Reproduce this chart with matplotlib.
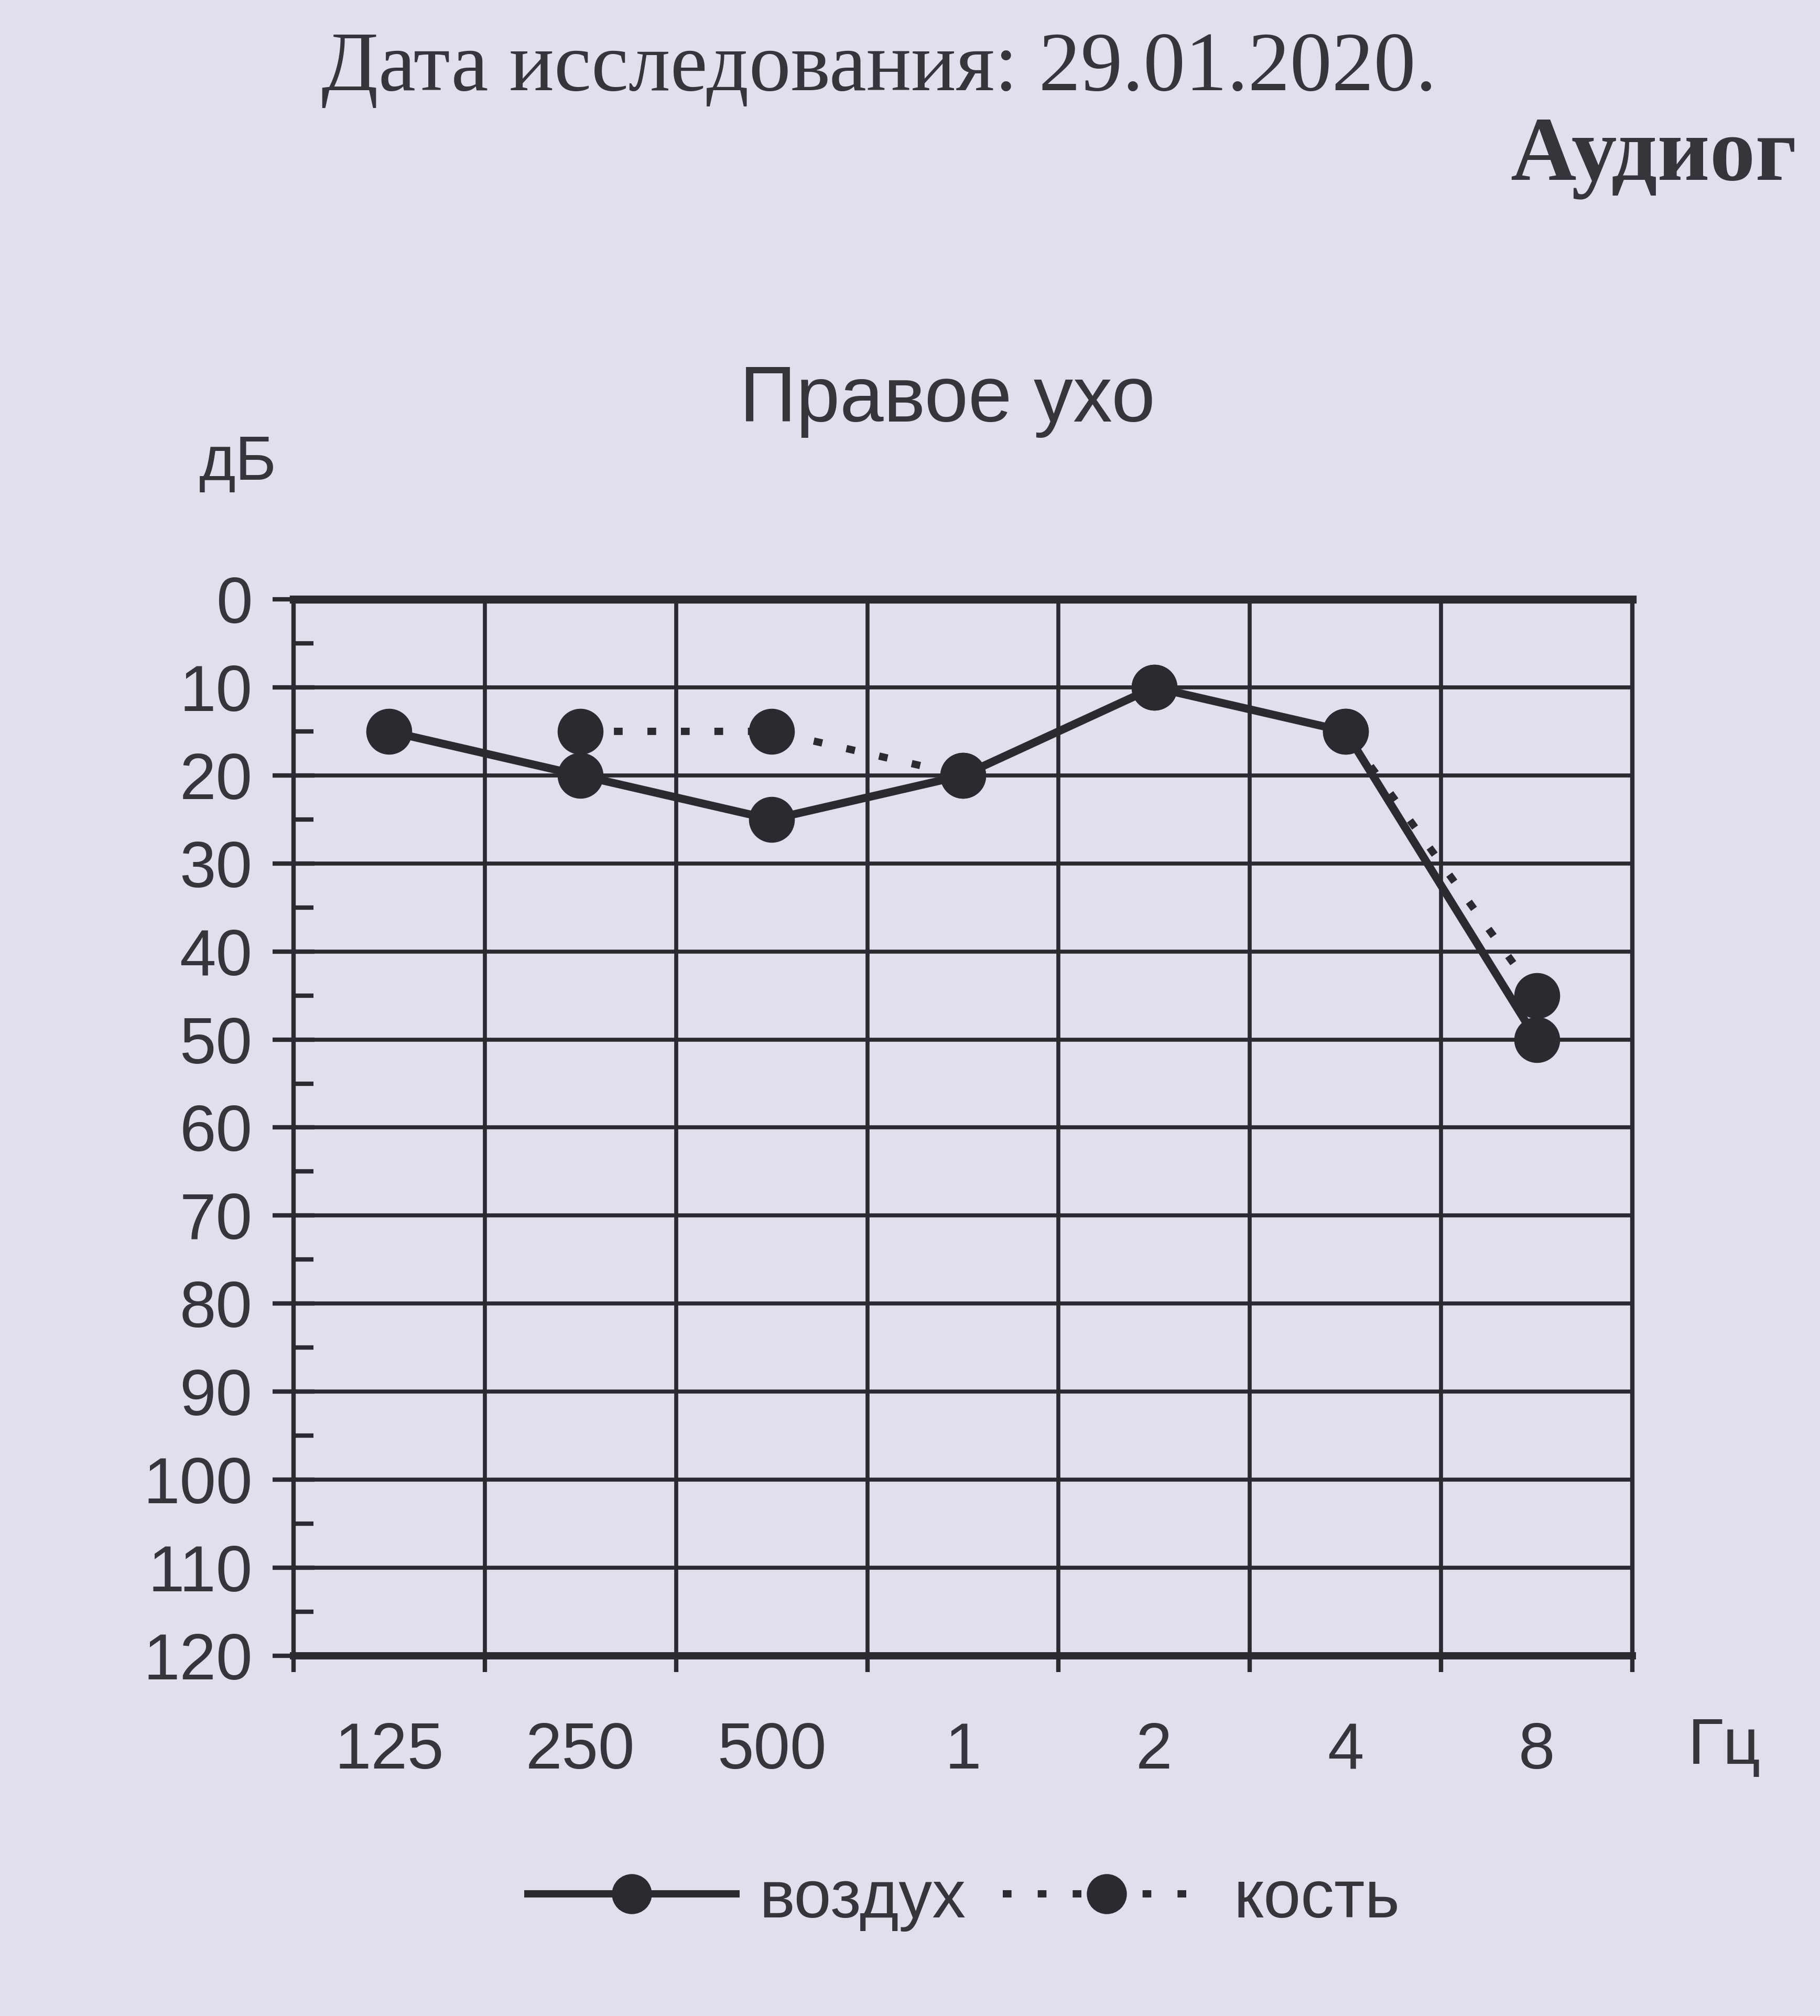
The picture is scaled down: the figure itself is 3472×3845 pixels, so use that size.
import matplotlib
matplotlib.use('Agg')
import matplotlib.pyplot as plt
from matplotlib.lines import Line2D
import numpy as np

# Audiogram, right ear - thresholds in dB per frequency
freq_labels = ['125', '250', '500', '1', '2', '4', '8']
air_db = [15, 20, 25, 20, 10, 15, 50]          # воздух
bone_db = [np.nan, 15, 15, 20, 10, 15, 45]     # кость
y_ticks = list(range(0, 121, 10))

plt.rcParams['font.family'] = ['Liberation Sans', 'DejaVu Sans']

W, H = 3472, 3845
bg = '#dfe0eb'
ink = '#2a2a30'
txt = '#35353b'

fig = plt.figure(figsize=(W / 100, H / 100), dpi=100)
fig.patch.set_facecolor(bg)


def fx(px):
    return px / W


def fy(py):
    return 1 - py / H


ax = fig.add_axes([fx(560), fy(3158), (3114 - 560) / W, (3158 - 1143) / H])
ax.set_facecolor(bg)

x = np.arange(len(freq_labels))
ax.plot(x, bone_db, color=ink, lw=10, ls=(0, (1.2, 3.4)), marker='o', ms=62, zorder=3)
ax.plot(x, air_db, color=ink, lw=11, marker='o', ms=62, zorder=4)

ax.set_xlim(-0.5, len(freq_labels) - 0.5)
ax.set_ylim(120, 0)
ax.set_yticks(y_ticks)
ax.set_yticks(np.arange(5, 120, 10), minor=True)
ax.set_xticks(np.arange(-0.5, len(freq_labels), 1))
ax.set_xticklabels([])
ax.set_xticks(x, minor=True)
ax.set_xticklabels(freq_labels, minor=True)

ax.set_axisbelow(True)
ax.grid(True, which='major', color=ink, lw=5.5)

for side, lw in [('top', 11), ('bottom', 10), ('left', 6), ('right', 6)]:
    ax.spines[side].set_linewidth(lw)
    ax.spines[side].set_color(ink)

ax.tick_params(axis='y', which='major', direction='inout', length=57, width=6,
               labelsize=90, pad=28, color=ink, labelcolor=txt)
ax.tick_params(axis='y', which='minor', direction='in', length=27, width=6, color=ink)
ax.tick_params(axis='x', which='major', direction='out', length=22, width=6, color=ink)
ax.tick_params(axis='x', which='minor', length=0, labelsize=90, pad=90, labelcolor=txt)

# legend below the chart
h_air = Line2D([], [], color=ink, lw=10, marker='o', ms=54)
h_bone = Line2D([], [], color=ink, lw=10, ls=(0, (1.2, 3.6)), marker='o', ms=54)
fig.legend(handles=[h_air, h_bone], labels=['воздух', 'кость'], loc='center',
           bbox_to_anchor=(fx(1839), fy(3624)), ncol=2, frameon=False,
           fontsize=92, handlelength=3.1, handletextpad=0.35, columnspacing=0.55,
           labelcolor=txt)

# texts
fig.text(fx(613), fy(172), 'Дата исследования: 29.01.2020.', family='Liberation Serif',
         fontsize=115, color=txt, ha='left', va='baseline')
fig.text(fx(2881), fy(343), 'Аудиог', family='Liberation Serif', fontweight='bold',
         fontsize=125, color=txt, ha='left', va='baseline')
fig.text(fx(1807), fy(804), 'Правое ухо', fontsize=108, color=txt, ha='center', va='baseline')
fig.text(fx(454), fy(915), 'дБ', fontsize=86, color=txt, ha='center', va='baseline')
fig.text(fx(3220), fy(3364), 'Гц', fontsize=90, color=txt, ha='left', va='baseline')

fig.savefig('out.png', dpi=100, facecolor=bg)
